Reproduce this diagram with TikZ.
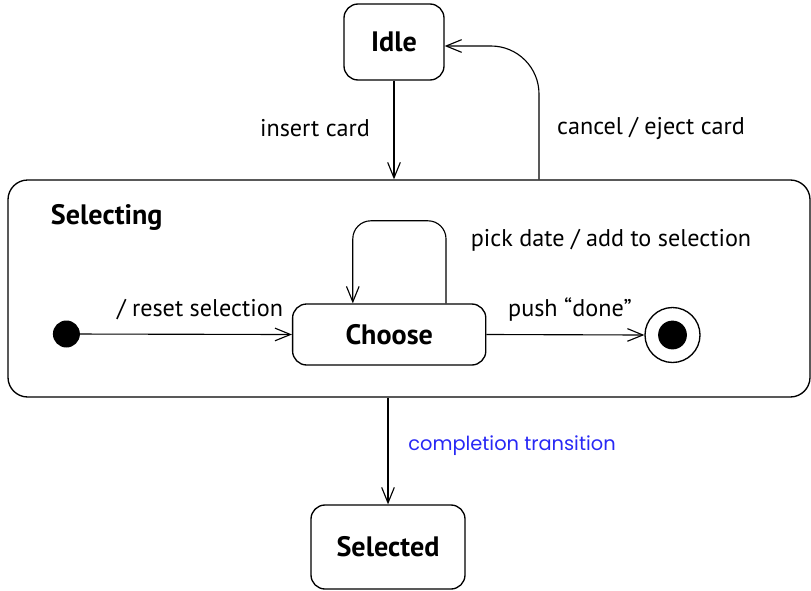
\documentclass[tikz,border=0pt]{standalone}
\usepackage{fontspec}
\setmainfont{PT Sans}
\newfontfamily\notefont{Poppins}
\usepackage{xcolor}
\usepackage{tikz}
\usetikzlibrary{
  positioning,
  arrows.meta,
  calc
}
\definecolor{noteblue}{RGB}{40,40,245}

\begin{document}
\begin{tikzpicture}[
    >={Straight Barb[length=11pt,width=9pt]},
    every node/.style={font=\fontsize{17.2}{20}\selectfont},
    state/.style={draw, line width=0.95pt, rounded corners=10pt, align=center,
                  inner sep=0pt, font=\fontsize{20}{23}\selectfont\bfseries},
    trans/.style={->, line width=0.8pt}
]
\useasboundingbox (0,0) rectangle (20.275,-14.75);

% ========== 外部状态 ==========
\node[state, minimum width=2.5cm, minimum height=1.9cm] (idle) at (9.85,-1.05) {Idle};
\node[state, rounded corners=14pt, minimum width=20.05cm, minimum height=5.425cm] (selecting)
      at (10.225,-7.2125) {};
\node[font=\fontsize{20}{23}\selectfont\bfseries, anchor=west] (selname) at (1.15,-5.425) {Selecting};
\node[state, minimum width=3.85cm, minimum height=2.1cm] (selected) at (9.7,-13.675) {Selected};

% ========== 内部状态 ==========
\node[state, minimum width=4.83cm, minimum height=1.525cm] (choose) at (9.73,-8.3625) {Choose};
\node[circle, fill=black, minimum size=0.675cm, inner sep=0pt] (init) at (1.66,-8.35) {};
\node[circle, draw, line width=0.95pt, minimum size=1.375cm, inner sep=0pt] (final) at (16.8125,-8.375) {};
\node[circle, fill=black, minimum size=0.72cm, inner sep=0pt] (finaldot) at (final.center) {};

% ========== 转移 ==========
\draw[trans] (idle.south) -- (idle.south |- selecting.north);
\coordinate (cancelfoot) at ($(selecting.north)+(3.25,0)$);
\draw[trans, rounded corners=1.2cm] (cancelfoot) |- ([yshift=-0.1cm]idle.east);
\coordinate (looptop) at (8.82,-5.52);
\draw[trans, rounded corners=0.45cm] ([xshift=1.42cm]choose.north) |- (looptop)
      -- (looptop |- choose.north);
\draw[trans] (init) -- (choose.west);
\draw[trans] (choose.east) -- (final.west);
\draw[trans] (selecting.south -| selected.north) -- (selected.north);

% ========== 转移标注 ==========
\node (lblinsert) at (7.875,-3.2) {insert card};
\node (lblcancel) at (16.275,-3.2) {cancel / eject card};
\node (lblpick) at (15.275,-6.0) {pick date / add to selection};
\node (lblreset) at (5.0,-7.75) {/ reset selection};
\node (lblpush) at (14.25,-7.75) {push “done”};
\node[noteblue, font=\notefont\fontsize{13.8}{16}\selectfont] (lblcompl) at (12.8,-11.15) {completion transition};

\end{tikzpicture}
\end{document}
